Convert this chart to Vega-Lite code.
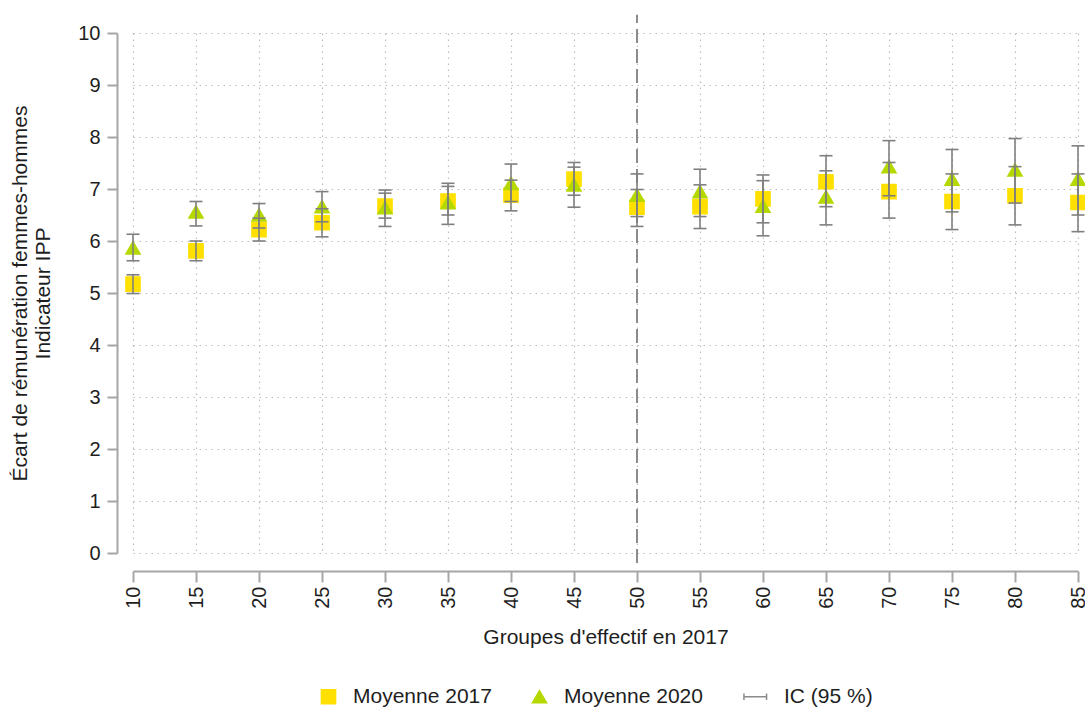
{
  "$schema": "https://vega.github.io/schema/vega-lite/v6.json",
  "width": 945,
  "height": 520,
  "autosize": "none",
  "padding": {"left": 133, "top": 33, "right": 7, "bottom": 156},
  "background": "white",
  "config": {
    "font": "Liberation Sans",
    "view": {"stroke": null},
    "axis": {
      "labelFont": "Liberation Sans",
      "titleFont": "Liberation Sans",
      "labelFontSize": 20,
      "titleFontSize": 21,
      "labelColor": "#1e1e1e",
      "titleColor": "#1e1e1e",
      "titleFontWeight": "normal",
      "domainColor": "#a6a6a6",
      "domainWidth": 2,
      "tickColor": "#a6a6a6",
      "tickWidth": 2,
      "gridColor": "#bdbdbd",
      "gridDash": [1.5, 4.5],
      "gridWidth": 1.2
    },
    "legend": {
      "labelFont": "Liberation Sans",
      "labelFontSize": 21,
      "labelColor": "#1e1e1e"
    }
  },
  "datasets": {
    "moyennes": [
      {"groupe": 10, "serie": "Moyenne 2017", "moy": 5.17, "lo": 4.99, "hi": 5.35},
      {"groupe": 15, "serie": "Moyenne 2017", "moy": 5.81, "lo": 5.62, "hi": 6.00},
      {"groupe": 20, "serie": "Moyenne 2017", "moy": 6.22, "lo": 6.00, "hi": 6.44},
      {"groupe": 25, "serie": "Moyenne 2017", "moy": 6.35, "lo": 6.08, "hi": 6.62},
      {"groupe": 30, "serie": "Moyenne 2017", "moy": 6.67, "lo": 6.44, "hi": 6.92},
      {"groupe": 35, "serie": "Moyenne 2017", "moy": 6.77, "lo": 6.50, "hi": 7.05},
      {"groupe": 40, "serie": "Moyenne 2017", "moy": 6.88, "lo": 6.58, "hi": 7.17},
      {"groupe": 45, "serie": "Moyenne 2017", "moy": 7.19, "lo": 6.88, "hi": 7.51},
      {"groupe": 50, "serie": "Moyenne 2017", "moy": 6.65, "lo": 6.28, "hi": 6.99},
      {"groupe": 55, "serie": "Moyenne 2017", "moy": 6.66, "lo": 6.24, "hi": 7.08},
      {"groupe": 60, "serie": "Moyenne 2017", "moy": 6.81, "lo": 6.35, "hi": 7.27},
      {"groupe": 65, "serie": "Moyenne 2017", "moy": 7.14, "lo": 6.66, "hi": 7.64},
      {"groupe": 70, "serie": "Moyenne 2017", "moy": 6.95, "lo": 6.44, "hi": 7.51},
      {"groupe": 75, "serie": "Moyenne 2017", "moy": 6.76, "lo": 6.22, "hi": 7.29},
      {"groupe": 80, "serie": "Moyenne 2017", "moy": 6.87, "lo": 6.31, "hi": 7.43},
      {"groupe": 85, "serie": "Moyenne 2017", "moy": 6.74, "lo": 6.18, "hi": 7.29},
      {"groupe": 10, "serie": "Moyenne 2020", "moy": 5.87, "lo": 5.62, "hi": 6.13},
      {"groupe": 15, "serie": "Moyenne 2020", "moy": 6.56, "lo": 6.29, "hi": 6.76},
      {"groupe": 20, "serie": "Moyenne 2020", "moy": 6.50, "lo": 6.25, "hi": 6.72},
      {"groupe": 25, "serie": "Moyenne 2020", "moy": 6.66, "lo": 6.37, "hi": 6.95},
      {"groupe": 30, "serie": "Moyenne 2020", "moy": 6.64, "lo": 6.28, "hi": 6.98},
      {"groupe": 35, "serie": "Moyenne 2020", "moy": 6.74, "lo": 6.32, "hi": 7.11},
      {"groupe": 40, "serie": "Moyenne 2020", "moy": 7.11, "lo": 6.76, "hi": 7.48},
      {"groupe": 45, "serie": "Moyenne 2020", "moy": 7.08, "lo": 6.65, "hi": 7.42},
      {"groupe": 50, "serie": "Moyenne 2020", "moy": 6.88, "lo": 6.47, "hi": 7.29},
      {"groupe": 55, "serie": "Moyenne 2020", "moy": 6.95, "lo": 6.47, "hi": 7.38},
      {"groupe": 60, "serie": "Moyenne 2020", "moy": 6.67, "lo": 6.10, "hi": 7.16},
      {"groupe": 65, "serie": "Moyenne 2020", "moy": 6.85, "lo": 6.31, "hi": 7.35},
      {"groupe": 70, "serie": "Moyenne 2020", "moy": 7.43, "lo": 6.87, "hi": 7.93},
      {"groupe": 75, "serie": "Moyenne 2020", "moy": 7.19, "lo": 6.56, "hi": 7.76},
      {"groupe": 80, "serie": "Moyenne 2020", "moy": 7.37, "lo": 6.73, "hi": 7.97},
      {"groupe": 85, "serie": "Moyenne 2020", "moy": 7.19, "lo": 6.50, "hi": 7.83}
    ],
    "seuil": [{"groupe": 50, "bas": -0.19, "haut": 10.35}]
  },
  "encoding": {
    "x": {
      "field": "groupe",
      "type": "quantitative",
      "scale": {"domain": [10, 85], "nice": false, "zero": false},
      "axis": {
        "values": [10, 15, 20, 25, 30, 35, 40, 45, 50, 55, 60, 65, 70, 75, 80, 85],
        "title": "Groupes d'effectif en 2017",
        "offset": 18,
        "tickSize": 11,
        "labelAngle": -90,
        "labelPadding": 4,
        "titlePadding": 18,
        "grid": true
      }
    }
  },
  "layer": [
    {
      "data": {"name": "seuil"},
      "mark": {"type": "rule", "color": "#8c8c8c", "strokeWidth": 2, "strokeDash": [14, 6]},
      "encoding": {
        "y": {"field": "bas", "type": "quantitative", "scale": {"domain": [0, 10], "nice": false}, "title": ["Écart de rémunération femmes-hommes", "Indicateur IPP"]},
        "y2": {"field": "haut"}
      }
    },
    {
      "data": {"name": "moyennes"},
      "mark": {"type": "point", "filled": true, "opacity": 1, "size": 200, "strokeWidth": 1.5},
      "encoding": {
        "y": {
          "field": "moy",
          "type": "quantitative",
          "scale": {"domain": [0, 10], "nice": false},
          "axis": {
            "values": [0, 1, 2, 3, 4, 5, 6, 7, 8, 9, 10],
            "title": ["Écart de rémunération femmes-hommes", "Indicateur IPP"],
            "offset": 16,
            "tickSize": 10,
            "labelPadding": 7,
            "titlePadding": 24,
            "grid": true
          }
        },
        "shape": {
          "field": "serie",
          "type": "nominal",
          "scale": {
            "domain": ["Moyenne 2017", "Moyenne 2020", "IC (95 %)"],
            "range": ["square", "triangle-up", "M-2.2,-0.45L-2.2,0.45M-2.2,0L1,0M1,-0.45L1,0.45"]
          },
          "legend": {
            "title": null,
            "orient": "none",
            "direction": "horizontal",
            "legendX": 185,
            "legendY": 653,
            "symbolSize": 200,
            "symbolStrokeWidth": 1.5,
            "labelOffset": 14,
            "columnPadding": 37
          }
        },
        "color": {
          "field": "serie",
          "type": "nominal",
          "scale": {
            "domain": ["Moyenne 2017", "Moyenne 2020", "IC (95 %)"],
            "range": ["#FFE000", "#B5D900", "#8c8c8c"]
          }
        },
        "stroke": {
          "field": "serie",
          "type": "nominal",
          "scale": {
            "domain": ["Moyenne 2017", "Moyenne 2020", "IC (95 %)"],
            "range": ["#FFE000", "#B5D900", "#8c8c8c"]
          }
        }
      }
    },
    {
      "data": {"name": "moyennes"},
      "mark": {"type": "rule", "color": "#7f7f7f", "strokeWidth": 1.6},
      "encoding": {
        "y": {"field": "lo", "type": "quantitative", "title": ["Écart de rémunération femmes-hommes", "Indicateur IPP"]},
        "y2": {"field": "hi"}
      }
    },
    {
      "data": {"name": "moyennes"},
      "mark": {"type": "tick", "orient": "horizontal", "color": "#7f7f7f", "size": 13, "thickness": 1.6, "opacity": 1},
      "encoding": {
        "y": {"field": "lo", "type": "quantitative", "title": ["Écart de rémunération femmes-hommes", "Indicateur IPP"]}
      }
    },
    {
      "data": {"name": "moyennes"},
      "mark": {"type": "tick", "orient": "horizontal", "color": "#7f7f7f", "size": 13, "thickness": 1.6, "opacity": 1},
      "encoding": {
        "y": {"field": "hi", "type": "quantitative", "title": ["Écart de rémunération femmes-hommes", "Indicateur IPP"]}
      }
    }
  ]
}
